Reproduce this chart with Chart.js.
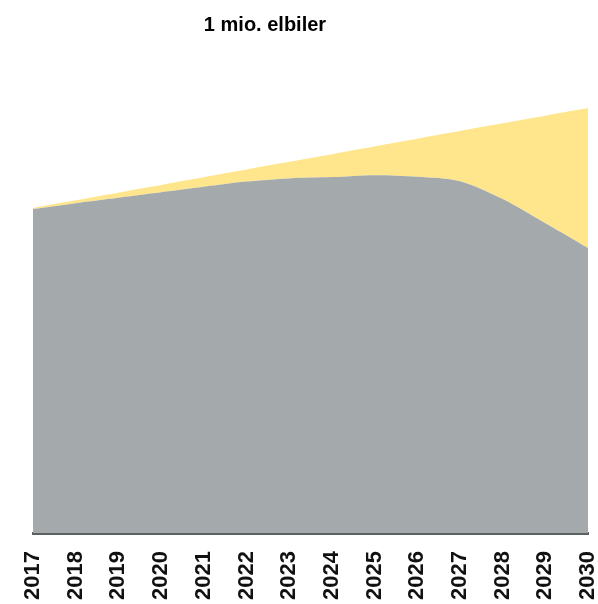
<!DOCTYPE html>
<html>
<head>
<meta charset="utf-8">
<script src="https://cdn.jsdelivr.net/npm/chart.js@4"></script>
<style>
  html, body { margin: 0; padding: 0; background: #fff; }
</style>
</head>
<body>
<canvas id="elbiler" width="598" height="604"></canvas>
<script>
// bestand i tusinde biler
const years = ['2017', '2018', '2019', '2020', '2021', '2022', '2023', '2024', '2025', '2026', '2027', '2028', '2029', '2030'];
const andreBiler = [2314, 2356, 2395, 2434, 2473, 2510, 2533, 2542, 2556, 2545, 2513, 2385, 2213, 2036];
const elbiler = [7, 20, 36, 52, 68, 86, 118, 164, 205, 271, 358, 541, 768, 1000];
const titel = '1 mio. elbiler';

// titlen sidder lidt til venstre for midten i originalen
const titelPlugin = {
  id: 'titel',
  afterDraw(chart) {
    const c = chart.ctx;
    c.save();
    c.font = 'bold 20px "Liberation Sans"';
    c.fillStyle = '#000';
    c.textAlign = 'center';
    c.textBaseline = 'middle';
    c.fillText(titel, 265, 25);
    c.restore();
  }
};

const ctx = document.getElementById('elbiler').getContext('2d');

const chart = new Chart(ctx, {
  type: 'line',
  data: {
    labels: years,
    datasets: [{
      label: 'Øvrige biler',
      data: andreBiler,
      backgroundColor: '#a4aaab',
      borderWidth: 0,
      pointRadius: 0,
      fill: 'origin',
      tension: 0.3
    }, {
      label: 'Elbiler',
      data: elbiler,
      backgroundColor: '#ffe68d',
      borderWidth: 0,
      pointRadius: 0,
      fill: '-1',
      tension: 0.3
    }]
  },
  plugins: [titelPlugin],
  options: {
    responsive: false,
    animation: false,
    layout: {
      padding: { left: 33, right: 10, top: 43, bottom: 0 }
    },
    plugins: {
      legend: { display: false },
      tooltip: { enabled: false },
      title: { display: false }
    },
    scales: {
      x: {
        offset: false,
        grid: { display: false },
        border: { display: true, color: '#5b6061', width: 3 },
        ticks: {
          color: '#111',
          font: { family: 'Liberation Sans', size: 22, weight: 'bold' },
          minRotation: 90,
          maxRotation: 90,
          autoSkip: false,
          padding: 10
        },
        afterFit(scale) {
          scale.height = 71;
          scale.paddingLeft = 0;
          scale.paddingRight = 0;
        }
      },
      y: {
        display: false,
        stacked: true,
        min: 0,
        max: 3500
      }
    }
  }
});
</script>
</body>
</html>
